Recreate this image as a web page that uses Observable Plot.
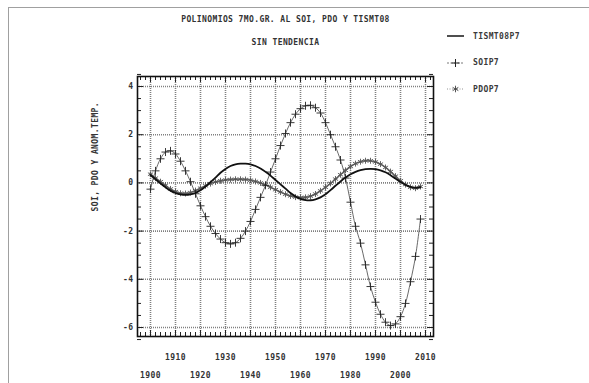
<!DOCTYPE html>
<html>
<head>
<meta charset="utf-8">
<script src="https://cdn.jsdelivr.net/npm/d3@7"></script>
<script src="https://cdn.jsdelivr.net/npm/@observablehq/plot@0.6"></script>
<style>
  html, body { margin: 0; padding: 0; background: #fff; }
  #page { position: relative; width: 589px; height: 383px; overflow: hidden; background: #fff; }
  #sheet { position: absolute; left: 8px; top: 7px; right: -2px; bottom: -2px;
           border-top: 1.5px solid #a0a0a0; border-left: 1.5px solid #a0a0a0; }
  #chart { position: absolute; left: 0; top: 0; }
  #legend { position: absolute; left: 444px; top: 29px; font: bold 8px "DejaVu Sans Mono", monospace;
            letter-spacing: 0.4px; color: #3a3a3a; }
  #legend .row { position: absolute; left: 0; height: 14px; display: flex; align-items: center; white-space: nowrap; }
  #legend svg { margin-right: 7px; }
</style>
</head>
<body>
<div id="page">
  <div id="sheet"></div>
  <div id="chart"></div>
  <div id="legend"></div>
</div>
<script>
// Years at which the 7th-degree polynomial fits are sampled
const years = [1900, 1902, 1904, 1906, 1908, 1910, 1912, 1914, 1916, 1918,
               1920, 1922, 1924, 1926, 1928, 1930, 1932, 1934, 1936, 1938,
               1940, 1942, 1944, 1946, 1948, 1950, 1952, 1954, 1956, 1958,
               1960, 1962, 1964, 1966, 1968, 1970, 1972, 1974, 1976, 1978,
               1980, 1982, 1984, 1986, 1988, 1990, 1992, 1994, 1996, 1998,
               2000, 2002, 2004, 2006, 2008];

// TISMT08P7: detrended temperature anomaly, polynomial fit
const tismt = [0.33, 0.15, -0.02, -0.18, -0.32, -0.42, -0.48, -0.50, -0.48, -0.42,
               -0.30, -0.15, 0.03, 0.22, 0.42, 0.58, 0.70, 0.77, 0.80, 0.80,
               0.77, 0.70, 0.60, 0.46, 0.30, 0.12, -0.06, -0.24, -0.42, -0.56,
               -0.66, -0.71, -0.72, -0.68, -0.60, -0.47, -0.30, -0.12, 0.06, 0.22,
               0.36, 0.46, 0.53, 0.57, 0.58, 0.57, 0.52, 0.44, 0.32, 0.18,
               0.04, -0.08, -0.16, -0.20, -0.18];

// SOIP7: Southern Oscillation Index, polynomial fit
const soi = [-0.26, 0.50, 1.00, 1.28, 1.33, 1.20, 0.90, 0.50, 0.05, -0.45,
             -0.95, -1.40, -1.80, -2.10, -2.33, -2.48, -2.53, -2.48, -2.30, -2.00,
             -1.60, -1.10, -0.60, -0.10, 0.45, 1.00, 1.55, 2.05, 2.50, 2.85,
             3.08, 3.20, 3.22, 3.12, 2.90, 2.50, 2.00, 1.50, 0.95, 0.20,
             -0.80, -1.80, -2.50, -3.40, -4.30, -4.95, -5.45, -5.78, -5.92, -5.85,
             -5.55, -5.00, -4.10, -3.05, -1.50];

// PDOP7: Pacific Decadal Oscillation, polynomial fit
const pdo = [0.36, 0.20, 0.05, -0.10, -0.25, -0.36, -0.43, -0.44, -0.40, -0.32,
             -0.22, -0.12, -0.03, 0.04, 0.09, 0.12, 0.14, 0.15, 0.15, 0.14,
             0.11, 0.06, 0.00, -0.08, -0.18, -0.28, -0.38, -0.47, -0.54, -0.59,
             -0.61, -0.60, -0.55, -0.46, -0.33, -0.18, -0.02, 0.16, 0.34, 0.52,
             0.68, 0.80, 0.88, 0.92, 0.92, 0.87, 0.78, 0.64, 0.47, 0.28,
             0.09, -0.07, -0.18, -0.22, -0.15];

// Axis ticks
const decadesTop = [1910, 1930, 1950, 1970, 1990, 2010];
const decadesBottom = [1900, 1920, 1940, 1960, 1980, 2000];
const decades = [1900, 1910, 1920, 1930, 1940, 1950, 1960, 1970, 1980, 1990, 2000, 2010];
const minorYears = [1896, 1898, 1902, 1904, 1906, 1908, 1912, 1914, 1916, 1918, 1922, 1924, 1926, 1928,
                    1932, 1934, 1936, 1938, 1942, 1944, 1946, 1948, 1952, 1954, 1956, 1958,
                    1962, 1964, 1966, 1968, 1972, 1974, 1976, 1978, 1982, 1984, 1986, 1988,
                    1992, 1994, 1996, 1998, 2002, 2004, 2006, 2008, 2012];
const yTicks = [-6, -4, -2, 0, 2, 4];
const yMinor = [-6.5, -5.5, -5, -4.5, -3.5, -3, -2.5, -1.5, -1, -0.5, 0.5, 1, 1.5, 2.5, 3, 3.5, 4.5];

const title = "POLINOMIOS 7MO.GR. AL SOI, PDO Y TISMT08";
const subtitle = "SIN TENDENCIA";
const yLabel = "SOI, PDO Y ANOM.TEMP.";

const rows = years.map((year, i) => ({year, tismt: tismt[i], soi: soi[i], pdo: pdo[i]}));

const W = 589, H = 383;
const mL = 137, mR = 156, mT = 76, mB = 47;
const fw = W - mL - mR, fh = H - mT - mB;

const mono = "'DejaVu Sans Mono', monospace";

const chart = Plot.plot({
  width: W,
  height: H,
  marginLeft: mL,
  marginRight: mR,
  marginTop: mT,
  marginBottom: mB,
  style: {fontFamily: mono, fontWeight: "bold", fontSize: "8px", color: "#333", background: "transparent", letterSpacing: "0.4px"},
  x: {domain: [1894.8, 2013.2]},
  y: {domain: [-6.373, 4.415]},
  marks: [
    // dotted grid
    Plot.ruleX(decades, {stroke: "#808080", strokeWidth: 1.6, strokeDasharray: "1,1"}),
    Plot.ruleY(yTicks, {stroke: "#808080", strokeWidth: 1.6, strokeDasharray: "1,1"}),
    // inward ticks on all four sides
    Plot.ruleX(minorYears, {stroke: "#222", strokeWidth: 1, insetTop: fh - 4}),
    Plot.ruleX(minorYears, {stroke: "#222", strokeWidth: 1, insetBottom: fh - 4}),
    Plot.ruleX(decades, {stroke: "#222", strokeWidth: 1, insetTop: fh - 6}),
    Plot.ruleX(decades, {stroke: "#222", strokeWidth: 1, insetBottom: fh - 6}),
    Plot.ruleY(yMinor, {stroke: "#222", strokeWidth: 1, insetRight: fw - 4}),
    Plot.ruleY(yMinor, {stroke: "#222", strokeWidth: 1, insetLeft: fw - 4}),
    Plot.ruleY(yTicks, {stroke: "#222", strokeWidth: 1, insetRight: fw - 6}),
    Plot.ruleY(yTicks, {stroke: "#222", strokeWidth: 1, insetLeft: fw - 6}),
    Plot.frame({stroke: "#111", strokeWidth: 1.6}),
    // axes
    Plot.axisY({ticks: yTicks, tickSize: 0, tickPadding: 4, tickFormat: d => String(d), label: null}),
    Plot.axisX({ticks: decadesTop, tickSize: 0, tickPadding: 18, tickFormat: d => String(d), label: null}),
    Plot.axisX({ticks: decadesBottom, tickSize: 0, tickPadding: 36, tickFormat: d => String(d), label: null}),
    // PDOP7: asterisk markers
    Plot.line(rows, {x: "year", y: "pdo", curve: "catmull-rom", stroke: "#666", strokeWidth: 1.6}),
    Plot.dot(rows, {x: "year", y: "pdo", symbol: "asterisk", r: 2.8, stroke: "#555", strokeWidth: 0.9}),
    // SOIP7: plus markers
    Plot.line(rows, {x: "year", y: "soi", curve: "catmull-rom", stroke: "#444", strokeWidth: 0.8}),
    Plot.dot(rows, {x: "year", y: "soi", symbol: "plus", r: 2.7, stroke: "#222", strokeWidth: 0.9}),
    // TISMT08P7: solid line
    Plot.line(rows, {x: "year", y: "tismt", curve: "catmull-rom", stroke: "#111", strokeWidth: 1.8}),
    // titles and y label
    Plot.text([title], {frameAnchor: "top", dy: -60, text: d => d, fill: "#333"}),
    Plot.text([subtitle], {frameAnchor: "top", dy: -37, text: d => d, fill: "#333"}),
    Plot.text([yLabel], {frameAnchor: "left", dx: -42, dy: 5, rotate: -90, text: d => d, fill: "#333"})
  ]
});
document.getElementById("chart").appendChild(chart);

// Legend
const legendItems = [
  {name: "TISMT08P7", kind: "solid"},
  {name: "SOIP7", kind: "plus"},
  {name: "PDOP7", kind: "asterisk"}
];
const legend = d3.select("#legend");
legendItems.forEach((item, i) => {
  const row = legend.append("div").attr("class", "row").style("top", `${i * 26.5}px`);
  const s = row.append("svg").attr("width", 22).attr("height", 12);
  if (item.kind === "solid") {
    s.append("line").attr("x1", 3).attr("x2", 20).attr("y1", 6).attr("y2", 6)
      .attr("stroke", "#222").attr("stroke-width", 1.6);
  } else if (item.kind === "plus") {
    s.append("line").attr("x1", 3).attr("x2", 20).attr("y1", 6).attr("y2", 6)
      .attr("stroke", "#555").attr("stroke-width", 0.8).attr("stroke-dasharray", "2,1.5");
    s.append("path").attr("d", "M11.5,2V10M7.5,6H15.5").attr("stroke", "#222").attr("stroke-width", 1);
  } else {
    s.append("line").attr("x1", 3).attr("x2", 20).attr("y1", 6).attr("y2", 6)
      .attr("stroke", "#777").attr("stroke-width", 0.8).attr("stroke-dasharray", "1,1.5");
    s.append("path").attr("d", d3.symbol(d3.symbolAsterisk, 30)()).attr("transform", "translate(11.5,6)")
      .attr("stroke", "#444").attr("stroke-width", 0.9).attr("fill", "none");
  }
  row.append("span").text(item.name);
});
</script>
</body>
</html>
